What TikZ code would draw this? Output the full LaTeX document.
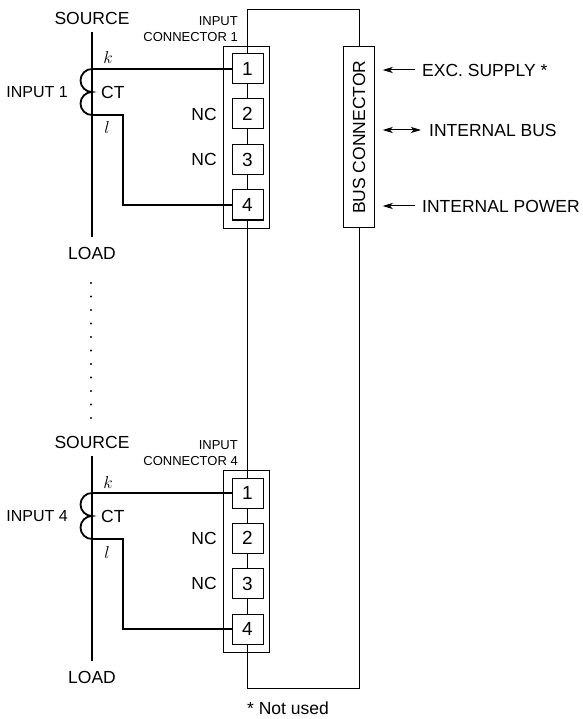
\documentclass[tikz,border=0pt]{standalone}
\usepackage{fontspec}
\setmainfont{Liberation Sans}
\usetikzlibrary{arrows.meta,calc}
\begin{document}
\begin{tikzpicture}[x=1pt,y=-1pt,
  lbl/.style={font=\fontsize{17.5}{20}\selectfont, inner sep=0},
  smalllbl/.style={font=\fontsize{13}{16}\selectfont, inner sep=0, align=right},
  pinbox/.style={draw, line width=1pt, minimum width=31pt, minimum height=30pt, inner sep=0, font=\fontsize{19}{20}\selectfont, fill=white},
  heavy/.style={line width=1.8pt},
  fine/.style={line width=0.8pt},
  conbox/.style={draw, line width=0.8pt, minimum width=46pt, minimum height=182pt, inner sep=0},
  arr/.style={line width=1pt, -{Stealth[length=10pt,width=6pt,inset=2.5pt]}},
  darr/.style={line width=1pt, {Stealth[length=10pt,width=6pt,inset=2.5pt]}-{Stealth[length=10pt,width=6pt,inset=2.5pt]}},
  ]
\useasboundingbox (0,0) rectangle (582,719);

\foreach \g/\off/\n in {a/0/1, b/424/4} {
  \begin{scope}[shift={(0,\off)}]
    \node[lbl] (src\g) at (92,18) {SOURCE};
    \node[lbl] (load\g) at (92,253) {LOAD};
    \coordinate (st\g) at (92,32);
    \coordinate (sb\g) at (92,237);
    \draw[heavy] (st\g) -- (sb\g);
    \coordinate (ck\g) at (92,69);
    \coordinate (cl\g) at (92,115);
    \draw[heavy] (ck\g) arc[start angle=90,end angle=270,radius=11.5pt]
                       arc[start angle=90,end angle=270,radius=11.5pt];
    \node[lbl, anchor=west] (ct\g) at (101,92) {CT};
    \node[lbl, font=\fontsize{16}{20}\selectfont, anchor=east] (in\g) at (68,92) {INPUT \n};
    \node[font=\fontsize{17.5}{20}\selectfont, inner sep=0] (k\g) at (108,58) {$k$};
    \node[font=\fontsize{17.5}{20}\selectfont, inner sep=0] (l\g) at (107,128) {$l$};
    \node[conbox] (cb\g) at (246,137) {};
    \node[pinbox] (p1\g) at (247.5,69) {1};
    \node[pinbox] (p2\g) at (247.5,114) {2};
    \node[pinbox] (p3\g) at (247.5,159.5) {3};
    \node[pinbox] (p4\g) at (247.5,205) {4};
    \node[lbl] (nc2\g) at (204,114) {NC};
    \node[lbl] (nc3\g) at (204,159.5) {NC};
    \node[smalllbl, anchor=south east] (ic\g) at (238,42) {INPUT\\CONNECTOR \n};
    \coordinate (lc\g) at (123,115);
    \draw[heavy] (ck\g) -- (p1\g.west);
    \draw[heavy] (cl\g) -- (lc\g) |- (p4\g.west);
  \end{scope}
}

% chain through the connector pins
\draw[fine] (p1a.south) -- (p2a.north) (p2a.south) -- (p3a.north)
            (p3a.south) -- (p4a.north) (p4a.south) -- (p1b.north)
            (p1b.south) -- (p2b.north) (p2b.south) -- (p3b.north)
            (p3b.south) -- (p4b.north);

% bus connector
\node[draw, line width=0.8pt, minimum width=30.6pt, minimum height=181pt, lbl] (bus) at (359,137.3) {\rotatebox{90}{BUS CONNECTOR}};
\coordinate (top) at (300,9);
\coordinate (bot) at (300,688);
\draw[fine] (p1a.north) -- (p1a.north |- top) -| (bus.north);
\draw[fine] (p4b.south) -- (p4b.south |- bot) -| (bus.south);

% signals
\node[lbl, anchor=west] (exc) at (422,70) {EXC. SUPPLY *};
\node[lbl, anchor=west] (ibus) at (429,130) {INTERNAL BUS};
\node[lbl, anchor=west] (ipow) at (422,206) {INTERNAL POWER};
\coordinate (busr) at ([xshift=8pt]bus.east);
\draw[arr] ([xshift=-7pt]exc.west) -- (busr |- exc.west);
\draw[darr] ([xshift=-8pt]ibus.west) -- (busr |- ibus.west);
\draw[arr] ([xshift=-7pt]ipow.west) -- (busr |- ipow.west);

% continuation dots
\foreach \i in {0,...,10} \fill (91,283+13.5*\i) circle (1.1pt);

\node[lbl, anchor=west] (note) at (247,708) {* Not used};
\end{tikzpicture}
\end{document}
